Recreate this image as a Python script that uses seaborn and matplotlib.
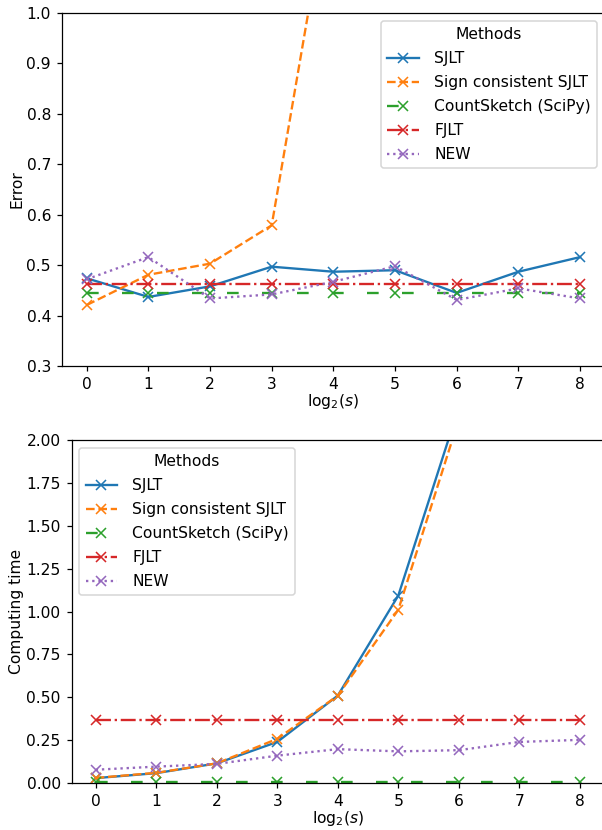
import numpy as np
import pandas as pd
import matplotlib
matplotlib.use("Agg")
import matplotlib.pyplot as plt
import seaborn as sns

log2_s = [0, 1, 2, 3, 4, 5, 6, 7, 8]
methods = ["SJLT", "Sign consistent SJLT", "CountSketch (SciPy)", "FJLT", "NEW"]

err_sjlt = [0.474, 0.437, 0.458, 0.497, 0.487, 0.490, 0.445, 0.487, 0.516]
err_sign = [0.421, 0.481, 0.503, 0.579, 1.29, 2.1, 3.4, 5.6, 9.0]
err_count = [0.444, 0.444, 0.444, 0.444, 0.444, 0.444, 0.444, 0.444, 0.444]
err_fjlt = [0.462, 0.462, 0.462, 0.462, 0.462, 0.462, 0.462, 0.462, 0.462]
err_new = [0.472, 0.516, 0.434, 0.442, 0.467, 0.498, 0.431, 0.454, 0.434]

time_sjlt = [0.029, 0.058, 0.115, 0.24, 0.51, 1.093, 2.19, 4.4, 8.8]
time_sign = [0.030, 0.060, 0.115, 0.258, 0.51, 1.01, 2.12, 4.3, 8.6]
time_count = [0.006, 0.006, 0.006, 0.006, 0.006, 0.006, 0.006, 0.006, 0.006]
time_fjlt = [0.370, 0.370, 0.370, 0.370, 0.370, 0.370, 0.370, 0.370, 0.370]
time_new = [0.078, 0.096, 0.112, 0.160, 0.198, 0.185, 0.192, 0.240, 0.252]

colors = sns.color_palette("tab10", 5)
linestyles = ["-", "--", (0, (5, 10)), "-.", ":"]

DPI = 112
fig = plt.figure(figsize=(602 / DPI, 830 / DPI), dpi=DPI)
ax1 = fig.add_axes([0.103, 0.559, 0.9015, 0.4253])
ax2 = fig.add_axes([0.1188, 0.0565, 0.8846, 0.4134])

panels = [
    (ax1, [err_sjlt, err_sign, err_count, err_fjlt, err_new], "Error", "upper right"),
    (ax2, [time_sjlt, time_sign, time_count, time_fjlt, time_new], "Computing time", "upper left"),
]

for ax, series, ylabel, loc in panels:
    for name, vals, c, ls in zip(methods, series, colors, linestyles):
        sns.lineplot(x=log2_s, y=vals, color=c, linestyle=ls, marker="x",
                     markersize=7, markeredgewidth=1.0, markeredgecolor=c,
                     linewidth=1.5, label=name, ax=ax)
    ax.set_xlabel("log$_2$($s$)", labelpad=0)
    ax.set_ylabel(ylabel, labelpad=1.5)
    ax.set_xlim(-0.4, 8.4)
    ax.set_xticks(log2_s)
    ax.legend(title="Methods", loc=loc, labelspacing=0.58, handletextpad=1.0)

ax1.set_ylim(0.3, 1.0)
ax2.set_ylim(0.0, 2.0)

fig.savefig("out.png", dpi=DPI)
